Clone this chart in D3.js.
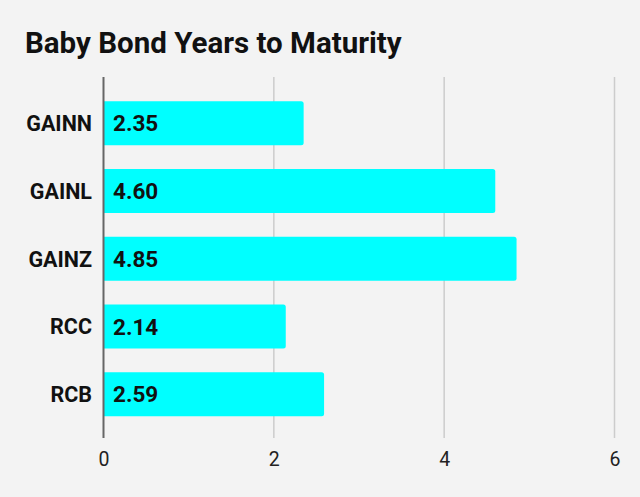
<!DOCTYPE html>
<html>
<head>
<meta charset="utf-8">
<script src="https://cdn.jsdelivr.net/npm/d3@7"></script>
<style>
html,body{margin:0;padding:0;background:#f3f3f3;}
svg{display:block;font-family:Roboto,"Noto Sans",sans-serif;}
</style>
</head>
<body>
<svg id="chart" width="640" height="497"></svg>
<script>
const categories = ["GAINN", "GAINL", "GAINZ", "RCC", "RCB"];
const values = [2.35, 4.60, 4.85, 2.14, 2.59];
const tickValues = [0, 2, 4, 6];
const title = "Baby Bond Years to Maturity";

const svg = d3.select("#chart");
const W = 640, H = 497;
svg.append("rect").attr("width", W).attr("height", H).attr("fill", "#f3f3f3");

const x = d3.scaleLinear().domain([0, 6]).range([103.5, 614.5]);
const y = d3.scaleBand().domain(categories).range([89.5, 428]).paddingInner(0.35).paddingOuter(0.175);

svg.append("text").attr("x", 25).attr("y", 53)
  .attr("font-size", 29.5).attr("font-weight", 700).attr("fill", "#111")
  .text(title);

// gridlines
const grid = svg.append("g");
grid.selectAll("line").data(tickValues.filter(d => d !== 0)).join("line")
  .attr("x1", d => x(d)).attr("x2", d => x(d))
  .attr("y1", 77).attr("y2", 438)
  .attr("stroke", "#cccccc").attr("stroke-width", 1.5);

// bars
const bars = svg.append("g");
bars.selectAll("path").data(categories).join("path")
  .attr("fill", "#00ffff")
  .attr("d", (c, i) => {
    const x0 = x(0), x1 = x(values[i]), y0 = y(c), h = y.bandwidth(), r = 2.5;
    return `M${x0},${y0}H${x1 - r}Q${x1},${y0} ${x1},${y0 + r}V${y0 + h - r}Q${x1},${y0 + h} ${x1 - r},${y0 + h}H${x0}Z`;
  });

// zero line
svg.append("line").attr("x1", x(0)).attr("x2", x(0)).attr("y1", 77).attr("y2", 438)
  .attr("stroke", "#666666").attr("stroke-width", 2);

// value labels
svg.append("g").selectAll("text").data(categories).join("text")
  .attr("x", x(0) + 9.5)
  .attr("y", c => y(c) + y.bandwidth() / 2)
  .attr("dy", "0.36em")
  .attr("font-size", 22.5).attr("font-weight", 700).attr("fill", "#111")
  .text((c, i) => values[i].toFixed(2));

// category axis labels
const yAxis = d3.axisLeft(y).tickSize(0).tickPadding(0);
const gy = svg.append("g").attr("transform", `translate(92,0)`).call(yAxis);
gy.select(".domain").remove();
gy.selectAll("text").attr("font-size", 21.5).attr("font-weight", 700).attr("fill", "#111")
  .attr("font-family", "Roboto,'Noto Sans',sans-serif").attr("dy", "0.36em");

// x axis
const xAxis = d3.axisBottom(x).tickValues(tickValues).tickSize(0).tickPadding(0).tickFormat(d3.format("d"));
const gx = svg.append("g").attr("transform", `translate(0,452)`).call(xAxis);
gx.select(".domain").remove();
gx.selectAll("text").attr("font-size", 19.5).attr("fill", "#222")
  .attr("font-family", "Roboto,'Noto Sans',sans-serif").attr("dy", "0.71em");
</script>
</body>
</html>
